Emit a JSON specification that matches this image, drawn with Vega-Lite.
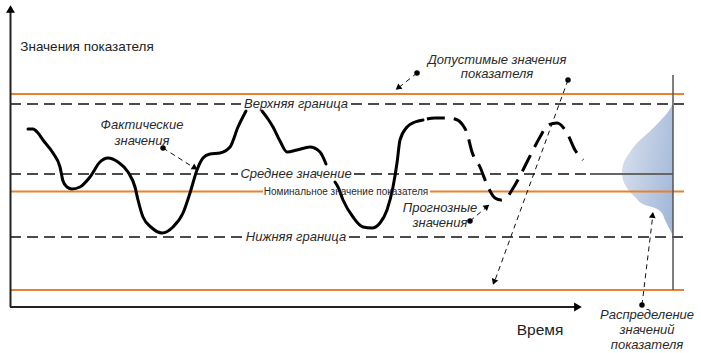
{
  "$schema": "https://vega.github.io/schema/vega-lite/v6.json",
  "width": 701,
  "height": 353,
  "autosize": {"type": "fit", "contains": "padding"},
  "padding": 0,
  "background": "white",
  "config": {"view": {"stroke": null}},
  "datasets": {
    "segs": [
      {"x": 10, "y": 259, "x2": 684, "y2": 259, "kind": "orange"},
      {"x": 10, "y": 161.5, "x2": 263, "y2": 161.5, "kind": "orange"},
      {"x": 430, "y": 161.5, "x2": 684, "y2": 161.5, "kind": "orange"},
      {"x": 10, "y": 63, "x2": 684, "y2": 63, "kind": "orange"},
      {"x": 10, "y": 249, "x2": 241, "y2": 249, "kind": "dash"},
      {"x": 351, "y": 249, "x2": 684, "y2": 249, "kind": "dash"},
      {"x": 10, "y": 179, "x2": 238, "y2": 179, "kind": "dash"},
      {"x": 354, "y": 179, "x2": 590, "y2": 179, "kind": "dash"},
      {"x": 10, "y": 116, "x2": 245, "y2": 116, "kind": "dash"},
      {"x": 349, "y": 116, "x2": 684, "y2": 116, "kind": "dash"},
      {"x": 590, "y": 179, "x2": 673, "y2": 179, "kind": "grayh"},
      {"x": 673, "y": 278, "x2": 673, "y2": 63, "kind": "grayv"},
      {"x": 10.5, "y": 46, "x2": 10.5, "y2": 342, "kind": "axis"},
      {"x": 10, "y": 46, "x2": 576, "y2": 46, "kind": "axis"},
      {"x": 163, "y": 205, "x2": 196, "y2": 184, "kind": "pointer"},
      {"x": 417, "y": 280, "x2": 397, "y2": 264, "kind": "pointer"},
      {"x": 568, "y": 273, "x2": 494, "y2": 70, "kind": "pointer"},
      {"x": 470, "y": 132, "x2": 488, "y2": 147, "kind": "pointer"},
      {"x": 642, "y": 48, "x2": 653, "y2": 139, "kind": "pointer"}
    ],
    "curve": [
      {"x": 28, "y": 224, "seg": "a1"}, {"x": 33, "y": 224, "seg": "a1"}, {"x": 38, "y": 220, "seg": "a1"},
      {"x": 43, "y": 213, "seg": "a1"}, {"x": 53, "y": 200, "seg": "a1"}, {"x": 60, "y": 186, "seg": "a1"},
      {"x": 63, "y": 172, "seg": "a1"}, {"x": 67, "y": 166, "seg": "a1"}, {"x": 72, "y": 164, "seg": "a1"},
      {"x": 80, "y": 166, "seg": "a1"}, {"x": 90, "y": 176, "seg": "a1"}, {"x": 100, "y": 191, "seg": "a1"},
      {"x": 108, "y": 195, "seg": "a1"}, {"x": 118, "y": 191, "seg": "a1"}, {"x": 128, "y": 181, "seg": "a1"},
      {"x": 135, "y": 166, "seg": "a1"}, {"x": 138, "y": 153, "seg": "a1"}, {"x": 143, "y": 136, "seg": "a1"},
      {"x": 152, "y": 125, "seg": "a1"}, {"x": 162, "y": 120, "seg": "a1"}, {"x": 173, "y": 126, "seg": "a1"},
      {"x": 183, "y": 140, "seg": "a1"}, {"x": 190, "y": 160, "seg": "a1"}, {"x": 197, "y": 183, "seg": "a1"},
      {"x": 203, "y": 195, "seg": "a1"}, {"x": 210, "y": 199, "seg": "a1"}, {"x": 220, "y": 200, "seg": "a1"},
      {"x": 230, "y": 206, "seg": "a1"}, {"x": 238, "y": 226, "seg": "a1"}, {"x": 246, "y": 242, "seg": "a1"},
      {"x": 262, "y": 242, "seg": "a2"}, {"x": 268, "y": 234, "seg": "a2"}, {"x": 273, "y": 226, "seg": "a2"},
      {"x": 280, "y": 212, "seg": "a2"}, {"x": 287, "y": 201, "seg": "a2"}, {"x": 297, "y": 203, "seg": "a2"},
      {"x": 310, "y": 206, "seg": "a2"}, {"x": 320, "y": 201, "seg": "a2"}, {"x": 326, "y": 189, "seg": "a2"},
      {"x": 335, "y": 171, "seg": "b"}, {"x": 338, "y": 166, "seg": "b"}, {"x": 343, "y": 153, "seg": "b"},
      {"x": 353, "y": 136, "seg": "b"}, {"x": 363, "y": 126, "seg": "b"}, {"x": 372, "y": 125, "seg": "b"},
      {"x": 380, "y": 130, "seg": "b"}, {"x": 387, "y": 143, "seg": "b"}, {"x": 393, "y": 166, "seg": "b"},
      {"x": 397, "y": 190, "seg": "b"}, {"x": 400, "y": 213, "seg": "b"}, {"x": 407, "y": 226, "seg": "b"},
      {"x": 415, "y": 231, "seg": "b"}, {"x": 423, "y": 233, "seg": "b"},
      {"x": 423, "y": 233, "seg": "forecast"}, {"x": 435, "y": 235, "seg": "forecast"}, {"x": 447, "y": 235, "seg": "forecast"},
      {"x": 455, "y": 234, "seg": "forecast"}, {"x": 462, "y": 229, "seg": "forecast"}, {"x": 467, "y": 220, "seg": "forecast"},
      {"x": 472, "y": 201, "seg": "forecast"}, {"x": 480, "y": 186, "seg": "forecast"}, {"x": 488, "y": 166, "seg": "forecast"},
      {"x": 495, "y": 155, "seg": "forecast"}, {"x": 501, "y": 153, "seg": "forecast"}, {"x": 507, "y": 156, "seg": "forecast"},
      {"x": 515, "y": 168, "seg": "forecast"}, {"x": 523, "y": 183, "seg": "forecast"}, {"x": 532, "y": 201, "seg": "forecast"},
      {"x": 540, "y": 216, "seg": "forecast"}, {"x": 548, "y": 228, "seg": "forecast"}, {"x": 557, "y": 230, "seg": "forecast"},
      {"x": 567, "y": 220, "seg": "forecast"}, {"x": 575, "y": 203, "seg": "forecast"}, {"x": 583, "y": 193, "seg": "forecast"}
    ],
    "dist": [
      {"y": 250, "x": 673, "xr": 673}, {"y": 241, "x": 668, "xr": 673}, {"y": 233, "x": 661, "xr": 673},
      {"y": 220, "x": 648, "xr": 673}, {"y": 211, "x": 638, "xr": 673}, {"y": 201, "x": 630, "xr": 673},
      {"y": 191, "x": 624, "xr": 673}, {"y": 181, "x": 622, "xr": 673}, {"y": 173, "x": 623, "xr": 673},
      {"y": 165, "x": 627, "xr": 673}, {"y": 156, "x": 635, "xr": 673}, {"y": 148, "x": 645, "xr": 673},
      {"y": 145, "x": 655, "xr": 673}, {"y": 141, "x": 661, "xr": 673}, {"y": 133, "x": 665, "xr": 673},
      {"y": 125, "x": 669, "xr": 673}, {"y": 117, "x": 673, "xr": 673}
    ],
    "dots": [
      {"x": 163, "y": 205}, {"x": 417, "y": 280}, {"x": 568, "y": 273}, {"x": 470, "y": 132}, {"x": 642, "y": 48}
    ],
    "heads": [
      {"x": 195, "y": 185, "a": 122, "s": 45},
      {"x": 398, "y": 265, "a": 232, "s": 45},
      {"x": 494, "y": 71, "a": 200, "s": 45},
      {"x": 487, "y": 146.5, "a": 50, "s": 45},
      {"x": 652.6, "y": 138, "a": 7, "s": 45},
      {"x": 10.5, "y": 344, "a": 0, "s": 80},
      {"x": 578, "y": 46, "a": 90, "s": 80}
    ],
    "labels": [
      {"x": 296, "y": 249, "label": "Верхняя граница", "kind": "italic"},
      {"x": 296, "y": 179, "label": "Среднее значение", "kind": "italic"},
      {"x": 296, "y": 116, "label": "Нижняя граница", "kind": "italic"},
      {"x": 142, "y": 228, "label": "Фактические", "kind": "italic"},
      {"x": 142, "y": 212, "label": "значения", "kind": "italic"},
      {"x": 497, "y": 293, "label": "Допустимые значения", "kind": "italic"},
      {"x": 497, "y": 279, "label": "показателя", "kind": "italic"},
      {"x": 440, "y": 145, "label": "Прогнозные", "kind": "italic"},
      {"x": 440, "y": 130, "label": "значения", "kind": "italic"},
      {"x": 647, "y": 38, "label": "Распределение", "kind": "italic"},
      {"x": 647, "y": 23, "label": "значений", "kind": "italic"},
      {"x": 647, "y": 8, "label": "показателя", "kind": "italic"},
      {"x": 346, "y": 161.5, "label": "Номинальное значение показателя", "kind": "small"},
      {"x": 87, "y": 306, "label": "Значения показателя", "kind": "title"},
      {"x": 540, "y": 23, "label": "Время", "kind": "time"}
    ]
  },
  "encoding": {
    "x": {"field": "x", "type": "quantitative", "scale": {"domain": [0, 701], "nice": false, "zero": false}, "axis": null},
    "y": {"field": "y", "type": "quantitative", "scale": {"domain": [0, 353], "nice": false, "zero": false}, "axis": null}
  },
  "layer": [
    {
      "data": {"name": "dist"},
      "mark": {"type": "area", "orient": "horizontal", "interpolate": "monotone",
        "fill": {"gradient": "linear", "x1": 0, "y1": 0.3, "x2": 1, "y2": 0.7,
          "stops": [{"offset": 0, "color": "#d6dfec"}, {"offset": 1, "color": "#a4b9da"}]}},
      "encoding": {"x2": {"field": "xr"}}
    },
    {
      "data": {"name": "segs"},
      "transform": [{"filter": "datum.kind == 'orange'"}],
      "mark": {"type": "rule", "color": "#e8822f", "strokeWidth": 2},
      "encoding": {"x2": {"field": "x2"}, "y2": {"field": "y2"}}
    },
    {
      "data": {"name": "segs"},
      "transform": [{"filter": "datum.kind == 'dash'"}],
      "mark": {"type": "rule", "color": "#111111", "strokeWidth": 1.7, "strokeDash": [11, 6]},
      "encoding": {"x2": {"field": "x2"}, "y2": {"field": "y2"}}
    },
    {
      "data": {"name": "segs"},
      "transform": [{"filter": "datum.kind == 'grayh'"}],
      "mark": {"type": "rule", "color": "#666666", "strokeWidth": 2},
      "encoding": {"x2": {"field": "x2"}, "y2": {"field": "y2"}}
    },
    {
      "data": {"name": "segs"},
      "transform": [{"filter": "datum.kind == 'grayv'"}],
      "mark": {"type": "rule", "color": "#555555", "strokeWidth": 1.5},
      "encoding": {"x2": {"field": "x2"}, "y2": {"field": "y2"}}
    },
    {
      "data": {"name": "segs"},
      "transform": [{"filter": "datum.kind == 'axis'"}],
      "mark": {"type": "rule", "color": "#222222", "strokeWidth": 2},
      "encoding": {"x2": {"field": "x2"}, "y2": {"field": "y2"}}
    },
    {
      "data": {"name": "segs"},
      "transform": [{"filter": "datum.kind == 'pointer'"}],
      "mark": {"type": "rule", "color": "#111111", "strokeWidth": 1, "strokeDash": [5, 4]},
      "encoding": {"x2": {"field": "x2"}, "y2": {"field": "y2"}}
    },
    {
      "data": {"name": "curve"},
      "transform": [{"filter": "datum.seg != 'forecast'"}],
      "mark": {"type": "line", "color": "#000000", "strokeWidth": 3, "interpolate": "monotone", "strokeCap": "round"},
      "encoding": {"detail": {"field": "seg"}}
    },
    {
      "data": {"name": "curve"},
      "transform": [{"filter": "datum.seg == 'forecast'"}],
      "mark": {"type": "line", "color": "#000000", "strokeWidth": 3, "interpolate": "monotone", "strokeDash": [18, 9], "strokeDashOffset": -4},
      "encoding": {}
    },
    {
      "data": {"name": "dots"},
      "mark": {"type": "point", "shape": "circle", "filled": true, "color": "#000000", "size": 30, "opacity": 1},
      "encoding": {}
    },
    {
      "data": {"name": "heads"},
      "mark": {"type": "point", "shape": "triangle-up", "filled": true, "color": "#000000", "opacity": 1},
      "encoding": {
        "angle": {"field": "a", "type": "quantitative", "scale": null},
        "size": {"field": "s", "type": "quantitative", "scale": null}
      }
    },
    {
      "data": {"name": "labels"},
      "transform": [{"filter": "datum.kind == 'italic'"}],
      "mark": {"type": "text", "font": "Liberation Sans", "fontSize": 13, "fontStyle": "italic", "color": "#2a2a2a", "align": "center", "baseline": "middle"},
      "encoding": {"text": {"field": "label"}}
    },
    {
      "data": {"name": "labels"},
      "transform": [{"filter": "datum.kind == 'small'"}],
      "mark": {"type": "text", "font": "Liberation Sans", "fontSize": 10, "color": "#2a2a2a", "align": "center", "baseline": "middle"},
      "encoding": {"text": {"field": "label"}}
    },
    {
      "data": {"name": "labels"},
      "transform": [{"filter": "datum.kind == 'title'"}],
      "mark": {"type": "text", "font": "Liberation Sans", "fontSize": 13.5, "color": "#222222", "align": "center", "baseline": "middle"},
      "encoding": {"text": {"field": "label"}}
    },
    {
      "data": {"name": "labels"},
      "transform": [{"filter": "datum.kind == 'time'"}],
      "mark": {"type": "text", "font": "Liberation Sans", "fontSize": 15.5, "color": "#222222", "align": "center", "baseline": "middle"},
      "encoding": {"text": {"field": "label"}}
    }
  ]
}
